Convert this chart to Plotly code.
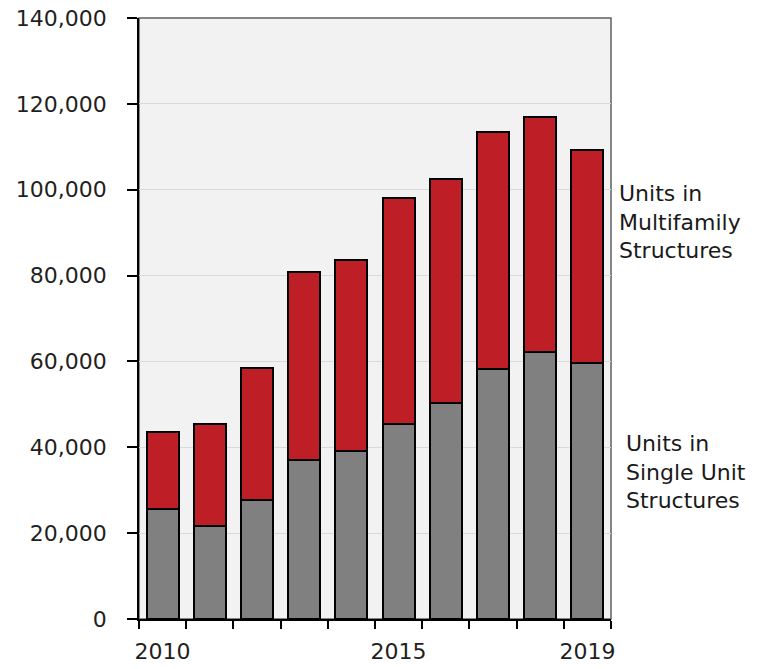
import plotly.graph_objects as go

years = [2010, 2011, 2012, 2013, 2014, 2015, 2016, 2017, 2018, 2019]
single_unit = [25600, 21600, 27800, 37000, 39200, 45500, 50400, 58200, 62300, 59700]
multifamily = [18000, 23900, 30600, 43800, 44500, 52600, 52000, 55200, 54700, 49500]
x_tick_vals = [2010, 2015, 2019]
x_tick_text = ["2010", "2015", "2019"]
y_tick_vals = [0, 20000, 40000, 60000, 80000, 100000, 120000, 140000]
label_multi = "Units in<br>Multifamily<br>Structures"
label_single = "Units in<br>Single Unit<br>Structures"

FONT = "DejaVu Sans"
TXT = "#1f1f1f"

fig = go.Figure()
fig.add_trace(go.Bar(x=years, y=single_unit, name="Single",
                     marker=dict(color="#808080", line=dict(color="black", width=2))))
fig.add_trace(go.Bar(x=years, y=multifamily, name="Multi",
                     marker=dict(color="#be1e26", line=dict(color="black", width=2))))

# page body has an 8px default margin, so the figure is sized to fit the window
fig.update_layout(
    width=769, height=661,
    barmode="stack", bargap=0.32,
    showlegend=False,
    plot_bgcolor="#f2f2f2", paper_bgcolor="white",
    margin=dict(l=131, r=166, t=10, b=50, autoexpand=False),
    font=dict(family=FONT, size=22, color=TXT),
)
fig.update_xaxes(
    range=[2009.5, 2019.5], tickvals=x_tick_vals, ticktext=x_tick_text,
    ticks="", showgrid=False, showline=True, linecolor="black", linewidth=1.5,
    tickfont=dict(family=FONT, size=22, color=TXT), ticklabelstandoff=12,
    minor=dict(tick0=2009.5, dtick=1, ticks="outside", ticklen=8,
               tickcolor="black", tickwidth=1.5, showgrid=False),
    zeroline=False, automargin=False,
)
fig.update_yaxes(
    range=[0, 140020], tickvals=y_tick_vals, tickformat=",d",
    ticks="outside", ticklen=10, tickcolor="black", tickwidth=1.5,
    showline=True, linecolor="black", linewidth=1.5,
    showgrid=True, gridcolor="#d9d9d9", gridwidth=1,
    tickfont=dict(family=FONT, size=22, color=TXT), ticklabelstandoff=16,
    ticklabeloverflow="allow",
    zeroline=False, automargin=False,
)
fig.add_shape(type="rect", xref="paper", yref="paper", x0=0, x1=1, y0=0, y1=1,
              line=dict(color="#606060", width=1.5), layer="between")
fig.add_annotation(text=label_multi, xref="paper", yref="paper",
                   x=(617 - 139) / 472, y=0.66, xanchor="left", yanchor="middle",
                   align="left", showarrow=False,
                   font=dict(family=FONT, size=22, color="#1a1a1a"))
fig.add_annotation(text=label_single, xref="paper", yref="paper",
                   x=(624 - 139) / 472, y=0.245, xanchor="left", yanchor="middle",
                   align="left", showarrow=False,
                   font=dict(family=FONT, size=22, color="#1a1a1a"))

fig.write_html("out.html")
